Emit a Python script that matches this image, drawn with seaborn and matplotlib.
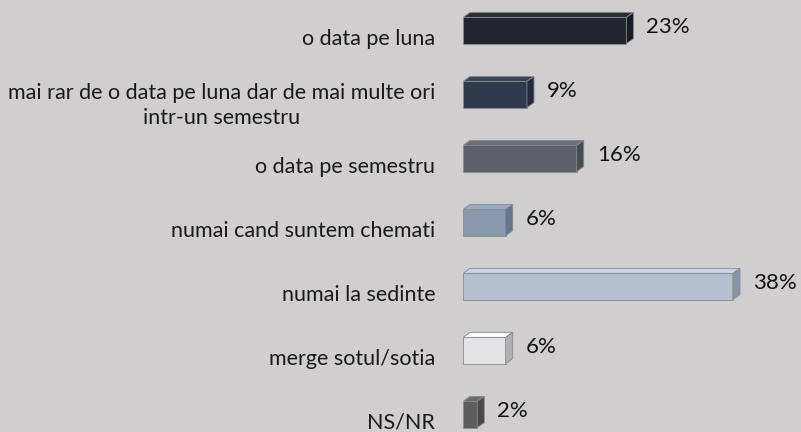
import pandas as pd
import matplotlib.pyplot as plt
import seaborn as sns
from matplotlib.patches import Polygon
from matplotlib.colors import to_rgb
from matplotlib.transforms import ScaledTranslation

# Survey answers and percentages
categories = [
    "o data pe luna",
    "mai rar de o data pe luna dar de mai multe ori\nintr-un semestru",
    "o data pe semestru",
    "numai cand suntem chemati",
    "numai la sedinte",
    "merge sotul/sotia",
    "NS/NR",
]
values = [23, 9, 16, 6, 38, 6, 2]
bar_colors = ["#1f2430", "#2d3950", "#5b606e", "#8297b3", "#b2bdd3", "#e2e2e6", "#5c5c5c"]

df = pd.DataFrame({"answer": categories, "pct": values})

bg = "#d0cecf"
sns.set_style("white")
plt.rcParams["font.family"] = ["Lato", "DejaVu Sans"]

fig = plt.figure(figsize=(8.01, 4.32), dpi=100, facecolor=bg)
ax = fig.add_axes([463 / 801, -14.5 / 432, 338 / 801, 448 / 432])
ax.set_facecolor(bg)

sns.barplot(data=df, x="pct", y="answer", hue="answer", palette=bar_colors,
            orient="h", width=0.41, legend=False, ax=ax,
            edgecolor="#8a8a8a", linewidth=0.6)

ax.set_xlim(0, 47.6)
ax.set_ylim(6.5, -0.5)

# fake 3D: top and side faces built from each drawn bar
dx, dy = 1.0, 0.078
for p, col in zip(ax.patches, bar_colors):
    x0, y0, w, h = p.get_x(), p.get_y(), p.get_width(), p.get_height()
    r, g, b = to_rgb(col)
    top = tuple(min(1, c * 1.08 + 0.03) for c in (r, g, b))
    side = tuple(c * 0.78 for c in (r, g, b))
    ax.add_patch(Polygon([(x0, y0), (x0 + dx, y0 - dy), (x0 + w + dx, y0 - dy), (x0 + w, y0)],
                         closed=True, facecolor=top, edgecolor="#8a8a8a", linewidth=0.6))
    ax.add_patch(Polygon([(x0 + w, y0), (x0 + w + dx, y0 - dy), (x0 + w + dx, y0 + h - dy), (x0 + w, y0 + h)],
                         closed=True, facecolor=side, edgecolor="#8a8a8a", linewidth=0.6))

# value labels
for i, v in enumerate(values):
    ax.annotate(f"{v}%", xy=(v, i), xytext=(14.5, 2.2), textcoords="offset points",
                va="center", ha="left", fontsize=16, color="#111111")

ax.set_xlabel("")
ax.set_ylabel("")
ax.set_xticks([])
ax.tick_params(axis="y", length=0, pad=20, labelsize=15.5, labelcolor="#1a1a1a")
for lab in ax.get_yticklabels():
    lab.set_multialignment("center")
    lab.set_linespacing(1.35)
    lab.set_transform(lab.get_transform() + ScaledTranslation(0, -6 / 100, fig.dpi_scale_trans))
sns.despine(ax=ax, left=True, bottom=True)

fig.savefig("out.png", dpi=100, facecolor=bg)
